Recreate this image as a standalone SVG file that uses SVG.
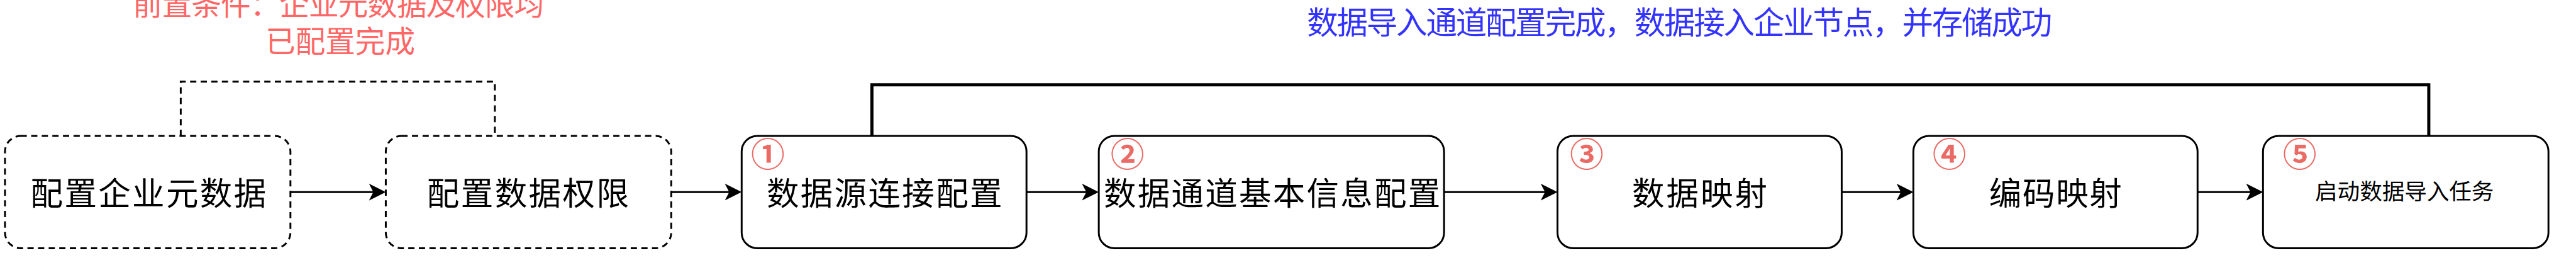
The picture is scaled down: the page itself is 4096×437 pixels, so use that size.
<svg xmlns="http://www.w3.org/2000/svg" width="4096" height="437" viewBox="0 0 4096 437">
<defs>
<style>
.box{fill:#ffffff;stroke:#000000;stroke-width:3}
.dash{stroke-dasharray:10 7}
.lbl{font-family:"Noto Sans CJK SC","Liberation Sans",sans-serif;font-size:52px;fill:#000000;text-anchor:middle}
.num{font-family:"Noto Sans CJK SC","Liberation Sans",sans-serif;font-size:54px;font-weight:bold;fill:#EA6B66;text-anchor:middle}
.edge{fill:none;stroke:#000000;stroke-width:3}
.red{font-family:"Noto Sans CJK SC","Liberation Sans",sans-serif;font-size:48px;fill:#FF6666;text-anchor:middle}
.blue{font-family:"Noto Sans CJK SC","Liberation Sans",sans-serif;font-size:50px;fill:#3333FF;text-anchor:middle}
</style>
<marker id="arr" markerUnits="userSpaceOnUse" viewBox="0 0 27 27" refX="17" refY="13.5" markerWidth="27" markerHeight="27" orient="auto">
<path d="M0,0 L27,13.5 L0,27 L7,13.5 Z" fill="#000000"/>
</marker>
</defs>
<g transform="scale(0.991)">
<g id="connectors">
<path class="edge dash" d="M290,218 V131 H794 V218"/>
<path class="edge" style="stroke-width:5" d="M1399,218 V136 H3897 V218"/>
<path class="edge" d="M466,308 H609" marker-end="url(#arr)"/>
<path class="edge" d="M1077,308 H1180" marker-end="url(#arr)"/>
<path class="edge" d="M1647,308 H1753" marker-end="url(#arr)"/>
<path class="edge" d="M2317,308 H2489" marker-end="url(#arr)"/>
<path class="edge" d="M2955,308 H3060" marker-end="url(#arr)"/>
<path class="edge" d="M3526,308 H3621" marker-end="url(#arr)"/>
</g>
<g id="note-precondition">
<text class="red" x="543" y="24" textLength="660">前置条件：企业元数据及权限均</text>
<text class="red" x="546" y="84">已配置完成</text>
</g>
<g id="note-success">
<text class="blue" x="2695" y="54" textLength="1196">数据导入通道配置完成，数据接入企业节点，并存储成功</text>
</g>
<g id="node-metadata">
<rect class="box dash" x="8" y="218" width="458" height="180" rx="25"/>
<text class="lbl" x="238" y="329" textLength="378">配置企业元数据</text>
</g>
<g id="node-permission">
<rect class="box dash" x="619" y="218" width="458" height="180" rx="25"/>
<text class="lbl" x="847" y="329" textLength="324">配置数据权限</text>
</g>
<g id="node-1">
<rect class="box" x="1190" y="218" width="457" height="180" rx="25"/>
<text class="num" x="1232" y="267">①</text>
<text class="lbl" x="1419" y="329" textLength="378">数据源连接配置</text>
</g>
<g id="node-2">
<rect class="box" x="1763" y="218" width="554" height="180" rx="25"/>
<text class="num" x="1809" y="267">②</text>
<text class="lbl" x="2041" y="329" textLength="540">数据通道基本信息配置</text>
</g>
<g id="node-3">
<rect class="box" x="2499" y="218" width="456" height="180" rx="25"/>
<text class="num" x="2546" y="267">③</text>
<text class="lbl" x="2727" y="329" textLength="217">数据映射</text>
</g>
<g id="node-4">
<rect class="box" x="3070" y="218" width="456" height="180" rx="25"/>
<text class="num" x="3128" y="267">④</text>
<text class="lbl" x="3298" y="329" textLength="213">编码映射</text>
</g>
<g id="node-5">
<rect class="box" x="3631" y="218" width="458" height="180" rx="25"/>
<text class="num" x="3690" y="267">⑤</text>
<text class="lbl" style="font-size:36px" x="3858" y="320" textLength="287">启动数据导入任务</text>
</g>
</g>
</svg>
